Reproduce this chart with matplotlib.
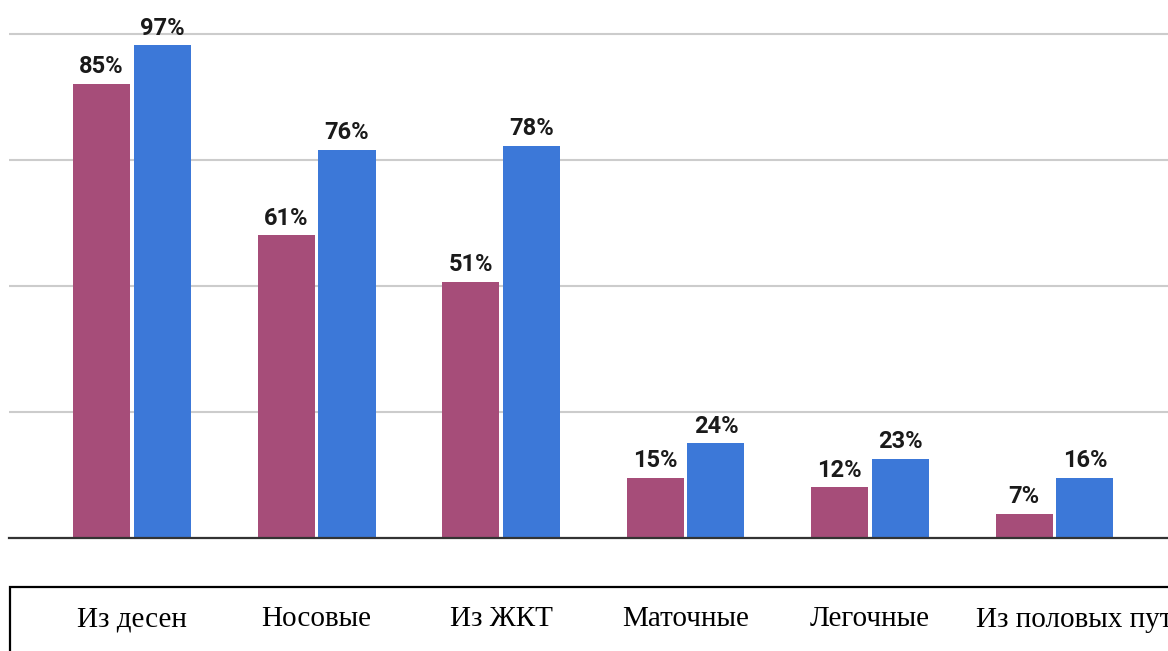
import matplotlib.pyplot as plt
import matplotlib.transforms as mtransforms
from matplotlib.patches import Rectangle
import numpy as np

categories = ['Из десен', 'Носовые', 'Из ЖКТ', 'Маточные', 'Легочные', 'Из половых путей']

# labels as printed on the chart
labels_a = [85, 61, 51, 15, 12, 7]
labels_b = [97, 76, 78, 24, 23, 16]

# bar heights as drawn in the picture (read against the 0-100 gridlines)
heights_a = [90.1, 60.1, 50.8, 11.9, 10.1, 4.8]
heights_b = [97.8, 77.0, 77.8, 18.8, 15.7, 11.9]

color_a = '#a64d79'
color_b = '#3c78d8'

fig = plt.figure(figsize=(11.68, 6.51), dpi=100)
ax = fig.add_axes([9 / 1168, 113 / 651, 1159 / 1168, 538 / 651])

x = np.arange(len(categories))
w = 0.309
off = 0.165

bars_a = ax.bar(x - off, heights_a, w, color=color_a, zorder=3)
bars_b = ax.bar(x + off, heights_b, w, color=color_b, zorder=3)

for bars, labs in [(bars_a, labels_a), (bars_b, labels_b)]:
    for b, v in zip(bars, labs):
        ax.annotate(f'{v}%', (b.get_x() + b.get_width() / 2, b.get_height()),
                    xytext=(0, 4), textcoords='offset points',
                    ha='center', va='bottom', fontsize=17, fontweight='bold',
                    family='Roboto', color='#1a1a1a')

ax.set_xlim(-0.667, 5.615)
ax.set_ylim(0, 106.75)
ax.set_yticks([25, 50, 75, 100])
ax.yaxis.grid(True, color='#cccccc', linewidth=1.5, zorder=0)
ax.tick_params(axis='y', left=False, labelleft=False)

ax.set_xticks(x)
ax.set_xticklabels(categories, family='Liberation Serif', fontsize=21, color='black')
ax.tick_params(axis='x', length=0, pad=49)

# last cell of the table row starts further left and runs off the page
last = ax.get_xticklabels()[-1]
last.set_horizontalalignment('left')
last.set_transform(last.get_transform() +
                   mtransforms.ScaledTranslation(-0.79, 0, fig.dpi_scale_trans))

for s in ['top', 'right', 'left']:
    ax.spines[s].set_visible(False)
ax.spines['bottom'].set_color('#333333')
ax.spines['bottom'].set_linewidth(1.6)
ax.spines['bottom'].set_zorder(4)

# table frame under the chart
fig.add_artist(Rectangle((10 / 1168, -0.1), 1.2, 0.1 + 64 / 651,
                         transform=fig.transFigure, fill=False,
                         edgecolor='black', linewidth=1.6, clip_on=False))

fig.savefig('out.png', dpi=100)
